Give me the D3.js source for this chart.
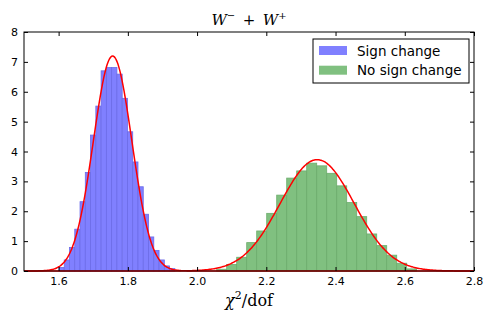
<!DOCTYPE html>
<html>
<head>
<meta charset="utf-8">
<script src="https://cdn.jsdelivr.net/npm/d3@7"></script>
<style>
  body { margin: 0; background: #fff; }
  svg { display: block; }
</style>
</head>
<body>
<div class="box"></div>
<script>
// données
const xTicks = [1.6, 1.8, 2.0, 2.2, 2.4, 2.6, 2.8]
const yTicks = [0, 1, 2, 3, 4, 5, 6, 7, 8]

// histogramme "Sign change"
const signStart = 1.601
const signWidth = 0.01522
const signHeights = [0.12, 0.37, 0.79, 1.40, 2.32, 3.30, 4.55, 5.52, 6.70, 6.81, 6.81,
                     6.59, 5.78, 4.66, 3.65, 2.82, 1.90, 1.14, 0.69, 0.37, 0.17, 0.08]

// histogramme "No sign change"
const noSignStart = 2.0567
const noSignWidth = 0.02889
const noSignHeights = [0.06, 0.22, 0.46, 0.95, 1.34, 1.93, 2.54, 3.11, 3.35, 3.61, 3.52,
                       3.27, 2.85, 2.29, 1.82, 1.24, 0.85, 0.53, 0.26, 0.07]

// ajustements gaussiens (moyenne, sigma)
const signFit = {mu: 1.756, sigma: 0.0554}
const noSignFit = {mu: 2.347, sigma: 0.107}

const legendLabels = ['Sign change', 'No sign change']

const W = 491, H = 327
const margin = {top: 32, right: 17, bottom: 56, left: 24}
const graphWidth = W - margin.left - margin.right
const graphHeight = H - margin.top - margin.bottom

const svg = d3.select('.box')
  .append('svg')
  .attr('width', W)
  .attr('height', H)
  .style('background-color', '#ffffff')

const graph = svg.append('g')
  .attr('transform', `translate(${margin.left}, ${margin.top})`)

const x = d3.scaleLinear().domain([1.5, 2.8]).range([0, graphWidth])
const y = d3.scaleLinear().domain([0, 8]).range([graphHeight, 0])

// barres
function drawBars(heights, start, width, fill, stroke) {
  const bins = heights.map((h, i) => ({x0: start + i * width, x1: start + (i + 1) * width, h}))
  graph.append('g')
    .selectAll('rect')
    .data(bins)
    .enter()
    .append('rect')
    .attr('x', d => x(d.x0))
    .attr('width', d => x(d.x1) - x(d.x0))
    .attr('y', d => y(d.h))
    .attr('height', d => y(0) - y(d.h))
    .attr('fill', fill)
    .attr('stroke', stroke)
    .attr('stroke-width', 0.8)
}
drawBars(signHeights, signStart, signWidth, '#8080ff', '#6c6ce8')
drawBars(noSignHeights, noSignStart, noSignWidth, '#80c080', '#6cad6c')

// courbes
const gauss = (f, v) => Math.exp(-((v - f.mu) ** 2) / (2 * f.sigma * f.sigma)) / (f.sigma * Math.sqrt(2 * Math.PI))
const xs = d3.range(0, 401).map(i => 1.5 + i * 1.3 / 400)
const line = d3.line().x(d => x(d[0])).y(d => y(d[1])).curve(d3.curveBasis)
;[signFit, noSignFit].forEach(f => {
  graph.append('path')
    .datum(xs.map(v => [v, gauss(f, v)]))
    .attr('d', line)
    .attr('fill', 'none')
    .attr('stroke', '#ff0000')
    .attr('stroke-width', 1.5)
})

// axes avec graduations vers l'interieur
const font = 'DejaVu Sans, sans-serif'
const axeX = d3.axisBottom(x).tickValues(xTicks).tickFormat(d3.format('.1f'))
  .tickSizeInner(-4).tickSizeOuter(0).tickPadding(6)
const axeY = d3.axisLeft(y).tickValues(yTicks).tickFormat(d3.format('d'))
  .tickSizeInner(-4).tickSizeOuter(0).tickPadding(6)
const axeTop = d3.axisTop(x).tickValues(xTicks).tickFormat('').tickSizeInner(-4).tickSizeOuter(0)
const axeRight = d3.axisRight(y).tickValues(yTicks).tickFormat('').tickSizeInner(-4).tickSizeOuter(0)

const groups = [
  graph.append('g').attr('transform', `translate(0, ${graphHeight})`).call(axeX),
  graph.append('g').call(axeY),
  graph.append('g').call(axeTop),
  graph.append('g').attr('transform', `translate(${graphWidth}, 0)`).call(axeRight)
]
groups.forEach(g => {
  g.select('.domain').remove()
  g.selectAll('text').style('font-family', font).style('font-size', '11px').attr('fill', '#000')
  g.selectAll('line').attr('stroke', '#000')
})

// cadre
graph.append('rect')
  .attr('width', graphWidth)
  .attr('height', graphHeight)
  .attr('fill', 'none')
  .attr('stroke', '#000')
  .attr('stroke-width', 1)

// titre
const title = svg.append('text')
  .attr('x', margin.left + graphWidth / 2)
  .attr('y', 25)
  .attr('text-anchor', 'middle')
  .style('font-family', 'DejaVu Serif, serif')
  .style('font-size', '15px')
title.append('tspan').attr('font-style', 'italic').text('W')
title.append('tspan').attr('dy', -6).style('font-size', '10px').text('−')
title.append('tspan').attr('dy', 6).text('\u2002+\u2002')
title.append('tspan').attr('font-style', 'italic').text('W')
title.append('tspan').attr('dy', -6).style('font-size', '10px').text('+')

// titre axe x
const xlab = svg.append('text')
  .attr('x', margin.left + graphWidth / 2)
  .attr('y', 306)
  .attr('text-anchor', 'middle')
  .style('font-family', 'DejaVu Serif, serif')
  .style('font-size', '16px')
xlab.append('tspan').attr('font-style', 'italic').text('χ')
xlab.append('tspan').attr('dy', -7).style('font-size', '11px').text('2')
xlab.append('tspan').attr('dy', 7).text('/dof')

// legende
const legend = svg.append('g').attr('transform', 'translate(313, 39)')
legend.append('rect')
  .attr('width', 156)
  .attr('height', 44)
  .attr('fill', '#fff')
  .attr('stroke', '#000')
  .attr('stroke-width', 1)
const legendColors = ['#8080ff', '#80c080']
legendLabels.forEach((lab, i) => {
  legend.append('rect')
    .attr('x', 6)
    .attr('y', 7 + i * 19.7)
    .attr('width', 28)
    .attr('height', 9)
    .attr('fill', legendColors[i])
  legend.append('text')
    .attr('x', 44)
    .attr('y', 16.5 + i * 19.7)
    .style('font-family', font)
    .style('font-size', '13.5px')
    .text(lab)
})
</script>
</body>
</html>
